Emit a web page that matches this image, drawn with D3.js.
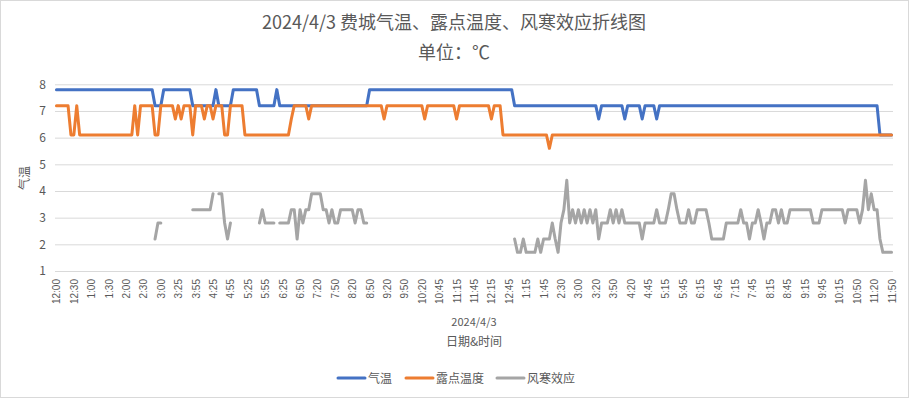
<!DOCTYPE html>
<html><head><meta charset="utf-8">
<script src="https://cdn.jsdelivr.net/npm/d3@7/dist/d3.min.js"></script>
<style>body{margin:0;background:#fff}svg{display:block;font-family:"Noto Sans CJK SC","Noto Sans",sans-serif}</style>
</head><body><svg id="c" width="909" height="398"></svg>
<script>
const title = "2024/4/3 费城气温、露点温度、风寒效应折线图";
const subtitle = "单位：℃";
const tickLabels = ["12:00","12:30","1:00","1:30","2:00","2:30","3:00","3:25","3:55","4:25","4:55","5:25","5:55","6:25","6:50","7:20","7:50","8:20","8:50","9:20","9:50","10:20","10:45","11:15","11:45","12:15","12:45","1:15","1:45","2:30","3:00","3:20","3:50","4:20","4:45","5:15","5:45","6:15","6:45","7:15","7:45","8:15","8:45","9:15","9:45","10:15","10:50","11:20","11:50"];
const tickEvery = 6;
const seriesNames = ["气温","露点温度","风寒效应"];
const seriesColors = ["#4472C4","#ED7D31","#A5A5A5"];
const yTicks = [1,2,3,4,5,6,7,8];
const _ = null;
const temperature = [
7.8,7.8,7.8,7.8,7.8,7.8, 7.8,7.8,7.8,7.8,7.8,7.8, 7.8,7.8,7.8,7.8,7.8,7.8, 7.8,7.8,7.8,7.8,7.8,7.8,
7.8,7.8,7.8,7.8,7.8,7.8, 7.8,7.8,7.8,7.8,7.2,7.2, 7.2,7.8,7.8,7.8,7.8,7.8, 7.8,7.8,7.8,7.8,7.8,7.2,
7.2,7.2,7.2,7.2,7.2,7.2, 7.2,7.8,7.2,7.2,7.2,7.2, 7.2,7.8,7.8,7.8,7.8,7.8, 7.8,7.8,7.8,7.8,7.2,7.2,
7.2,7.2,7.2,7.2,7.8,7.2, 7.2,7.2,7.2,7.2,7.2,7.2, 7.2,7.2,7.2,7.2,7.2,7.2, 7.2,7.2,7.2,7.2,7.2,7.2,
7.2,7.2,7.2,7.2,7.2,7.2, 7.2,7.2,7.2,7.2,7.2,7.2, 7.8,7.8,7.8,7.8,7.8,7.8, 7.8,7.8,7.8,7.8,7.8,7.8,
7.8,7.8,7.8,7.8,7.8,7.8, 7.8,7.8,7.8,7.8,7.8,7.8, 7.8,7.8,7.8,7.8,7.8,7.8, 7.8,7.8,7.8,7.8,7.8,7.8,
7.8,7.8,7.8,7.8,7.8,7.8, 7.8,7.8,7.8,7.8,7.8,7.8, 7.8,7.8,7.2,7.2,7.2,7.2, 7.2,7.2,7.2,7.2,7.2,7.2,
7.2,7.2,7.2,7.2,7.2,7.2, 7.2,7.2,7.2,7.2,7.2,7.2, 7.2,7.2,7.2,7.2,7.2,7.2, 7.2,6.7,7.2,7.2,7.2,7.2,
7.2,7.2,7.2,7.2,6.7,7.2, 7.2,7.2,7.2,7.2,6.7,7.2, 7.2,7.2,7.2,6.7,7.2,7.2, 7.2,7.2,7.2,7.2,7.2,7.2,
7.2,7.2,7.2,7.2,7.2,7.2, 7.2,7.2,7.2,7.2,7.2,7.2, 7.2,7.2,7.2,7.2,7.2,7.2, 7.2,7.2,7.2,7.2,7.2,7.2,
7.2,7.2,7.2,7.2,7.2,7.2, 7.2,7.2,7.2,7.2,7.2,7.2, 7.2,7.2,7.2,7.2,7.2,7.2, 7.2,7.2,7.2,7.2,7.2,7.2,
7.2,7.2,7.2,7.2,7.2,7.2, 7.2,7.2,7.2,7.2,7.2,7.2, 7.2,7.2,7.2,7.2,7.2,7.2, 7.2,7.2,6.1,6.1,6.1,6.1,
6.1];
const dewPoint = [
7.2,7.2,7.2,7.2,7.2,6.1, 6.1,7.2,6.1,6.1,6.1,6.1, 6.1,6.1,6.1,6.1,6.1,6.1, 6.1,6.1,6.1,6.1,6.1,6.1,
6.1,6.1,6.1,7.2,6.1,7.2, 7.2,7.2,7.2,7.2,6.1,6.1, 7.2,7.2,7.2,7.2,7.2,6.7, 7.2,6.7,7.2,7.2,7.2,6.1,
7.2,7.2,7.2,6.7,7.2,7.2, 6.7,7.2,7.2,7.2,6.1,6.1, 7.2,7.2,7.2,7.2,7.2,6.1, 6.1,6.1,6.1,6.1,6.1,6.1,
6.1,6.1,6.1,6.1,6.1,6.1, 6.1,6.1,6.1,6.7,7.2,7.2, 7.2,7.2,7.2,6.7,7.2,7.2, 7.2,7.2,7.2,7.2,7.2,7.2,
7.2,7.2,7.2,7.2,7.2,7.2, 7.2,7.2,7.2,7.2,7.2,7.2, 7.2,7.2,7.2,7.2,7.2,6.7, 7.2,7.2,7.2,7.2,7.2,7.2,
7.2,7.2,7.2,7.2,7.2,7.2, 7.2,6.7,7.2,7.2,7.2,7.2, 7.2,7.2,7.2,7.2,7.2,7.2, 6.7,7.2,7.2,7.2,7.2,7.2,
7.2,7.2,7.2,7.2,7.2,7.2, 6.7,7.2,7.2,7.2,6.1,6.1, 6.1,6.1,6.1,6.1,6.1,6.1, 6.1,6.1,6.1,6.1,6.1,6.1,
6.1,6.1,5.6,6.1,6.1,6.1, 6.1,6.1,6.1,6.1,6.1,6.1, 6.1,6.1,6.1,6.1,6.1,6.1, 6.1,6.1,6.1,6.1,6.1,6.1,
6.1,6.1,6.1,6.1,6.1,6.1, 6.1,6.1,6.1,6.1,6.1,6.1, 6.1,6.1,6.1,6.1,6.1,6.1, 6.1,6.1,6.1,6.1,6.1,6.1,
6.1,6.1,6.1,6.1,6.1,6.1, 6.1,6.1,6.1,6.1,6.1,6.1, 6.1,6.1,6.1,6.1,6.1,6.1, 6.1,6.1,6.1,6.1,6.1,6.1,
6.1,6.1,6.1,6.1,6.1,6.1, 6.1,6.1,6.1,6.1,6.1,6.1, 6.1,6.1,6.1,6.1,6.1,6.1, 6.1,6.1,6.1,6.1,6.1,6.1,
6.1,6.1,6.1,6.1,6.1,6.1, 6.1,6.1,6.1,6.1,6.1,6.1, 6.1,6.1,6.1,6.1,6.1,6.1, 6.1,6.1,6.1,6.1,6.1,6.1,
6.1];
const windChill = [
_,_,_,_,_,_, _,_,_,_,_,_, _,_,_,_,_,_, _,_,_,_,_,_,
_,_,_,_,_,_, _,_,_,_,2.2,2.8, 2.8,_,_,_,_,_, _,_,_,_,_,3.3,
3.3,3.3,3.3,3.3,3.3,3.3, 3.9,_,3.9,3.9,2.8,2.2, 2.8,_,_,_,_,_, _,_,_,_,2.8,3.3,
2.8,2.8,2.8,2.8,_,2.8, 2.8,2.8,2.8,3.3,3.3,2.2, 3.3,2.8,3.3,3.3,3.9,3.9, 3.9,3.9,3.3,3.3,2.8,3.3,
2.8,2.8,3.3,3.3,3.3,3.3, 3.3,2.8,3.3,3.3,2.8,2.8, _,_,_,_,_,_, _,_,_,_,_,_,
_,_,_,_,_,_, _,_,_,_,_,_, _,_,_,_,_,_, _,_,_,_,_,_,
_,_,_,_,_,_, _,_,_,_,_,_, _,_,2.2,1.7,1.7,2.2, 1.7,1.7,1.7,1.7,2.2,1.7,
2.2,2.2,2.2,2.8,2.2,1.7, 2.8,3.3,4.4,2.8,3.3,2.8, 3.3,2.8,3.3,2.8,3.3,2.8, 3.3,2.2,2.8,2.8,2.8,3.3,
2.8,3.3,2.8,3.3,2.8,2.8, 2.8,2.8,2.8,2.8,2.2,2.8, 2.8,2.8,2.8,3.3,2.8,2.8, 2.8,3.3,3.9,3.9,3.3,2.8,
2.8,2.8,3.3,2.8,2.8,3.3, 3.3,3.3,3.3,2.8,2.2,2.2, 2.2,2.2,2.2,2.8,2.8,2.8, 2.8,2.8,3.3,2.8,2.8,2.2,
2.8,2.8,3.3,2.8,2.2,2.8, 2.8,3.3,3.3,2.8,3.3,2.8, 2.8,3.3,3.3,3.3,3.3,3.3, 3.3,3.3,3.3,2.8,2.8,2.8,
3.3,3.3,3.3,3.3,3.3,3.3, 3.3,3.3,2.8,3.3,3.3,3.3, 3.3,2.8,3.3,4.4,3.3,3.9, 3.3,3.3,2.2,1.7,1.7,1.7,
1.7];

const series = [temperature, dewPoint, windChill];
const N = d3.max(series, s => s.length);
const svg = d3.select("#c");
const textColor = "#595959";
const gridColor = "#d9d9d9";
const plot = {left:55, right:893, top:84.3, bottom:271};

svg.append("rect").attr("x",0.5).attr("y",0.5).attr("width",908).attr("height",397)
  .attr("fill","#fff").attr("stroke",gridColor);

const x = d3.scalePoint().domain(d3.range(N)).range([plot.left, plot.right]).padding(0.5);
const y = d3.scaleLinear().domain([1,8]).range([plot.bottom, plot.top]);

// gridlines + y labels
const yAxis = d3.axisLeft(y).tickValues(yTicks).tickSize(-(plot.right-plot.left)).tickPadding(9).tickFormat(d3.format("d"));
const gy = svg.append("g").attr("transform",`translate(${plot.left},0)`).call(yAxis);
gy.select(".domain").remove();
gy.selectAll("line").attr("stroke",gridColor);
gy.selectAll("text").attr("fill",textColor).attr("font-size",12).attr("font-family","Noto Sans CJK SC");

// x axis
const xAxis = d3.axisBottom(x).tickValues(d3.range(0, N, tickEvery)).tickSize(0).tickPadding(0)
  .tickFormat(i => tickLabels[i / tickEvery]);
const gx = svg.append("g").attr("transform",`translate(0,${plot.bottom})`).call(xAxis);
gx.select(".domain").attr("stroke",gridColor).attr("d",`M${plot.left},0.5H${plot.right}`);
gx.selectAll("text").attr("fill",textColor).attr("font-size",10).attr("font-family","Liberation Sans, Arial, sans-serif")
  .attr("transform","rotate(-90)").attr("text-anchor","end").attr("dy","0.35em").attr("x",-8).attr("y",0);

// lines
const line = d3.line().defined(d => d != null).x((d,i) => x(i)).y(d => y(d));
series.forEach((s, k) => {
  svg.append("path").datum(s).attr("d", line).attr("fill","none")
    .attr("stroke", seriesColors[k]).attr("stroke-width",3)
    .attr("stroke-linejoin","round").attr("stroke-linecap","round");
});

// titles
svg.append("text").attr("x",454).attr("y",29).attr("text-anchor","middle").attr("font-size",18).attr("fill",textColor).text(title);
svg.append("text").attr("x",454).attr("y",59).attr("text-anchor","middle").attr("font-size",18).attr("fill",textColor).text(subtitle);
svg.append("text").attr("transform","translate(29,178) rotate(-90)").attr("text-anchor","middle").attr("font-size",12).attr("fill",textColor).text("气温");
svg.append("text").attr("x",(plot.left+plot.right)/2).attr("y",326).attr("text-anchor","middle").attr("font-size",11).attr("fill",textColor).text("2024/4/3");
svg.append("text").attr("x",(plot.left+plot.right)/2).attr("y",346).attr("text-anchor","middle").attr("font-size",12).attr("fill",textColor).text("日期&时间");

// legend
const legendX = [338, 406, 497];
seriesNames.forEach((name, k) => {
  const g = svg.append("g").attr("transform",`translate(${legendX[k]},378)`);
  g.append("line").attr("x1",0).attr("x2",27).attr("y1",0).attr("y2",0)
    .attr("stroke",seriesColors[k]).attr("stroke-width",3).attr("stroke-linecap","round");
  g.append("text").attr("x",30).attr("y",4.5).attr("font-size",12).attr("fill",textColor).text(name);
});
</script></body></html>
